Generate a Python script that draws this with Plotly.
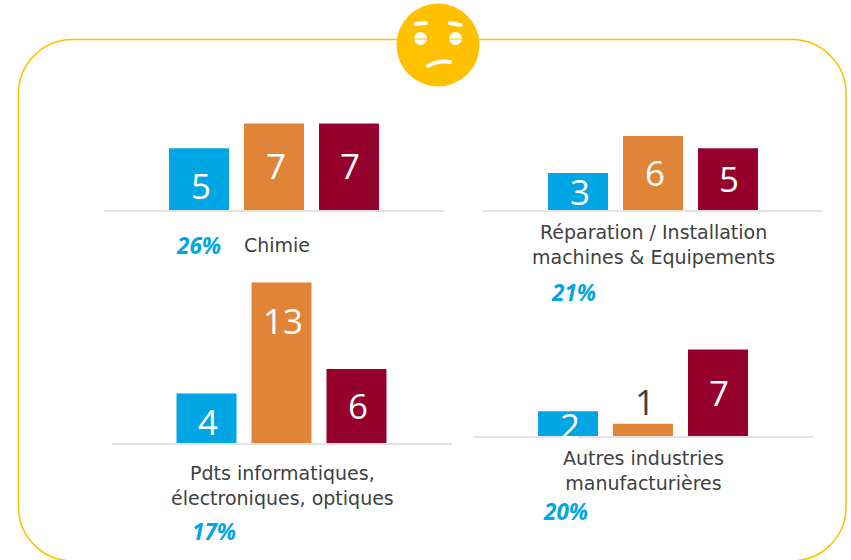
import plotly.graph_objects as go

W, H = 851, 560
FONT = "Open Sans"
TEXT_FONT = "DejaVu Sans"
categories = ["Série 1", "Série 2", "Série 3"]
colors = ["#00a5e3", "#e08538", "#96002d"]
chart_names = ["Chimie", "Réparation / Installation<br>machines & Equipements",
               "Pdts informatiques,<br>électroniques, optiques",
               "Autres industries<br>manufacturières"]
chimie = [5, 7, 7]
reparation = [3, 6, 5]
informatique = [4, 13, 6]
autres = [2, 1, 7]
shares = ["26%", "21%", "17%", "20%"]

series = [chimie, reparation, informatique, autres]
# pixel layout: left edge, baseline, centre of the name, pct position
panels = [
    dict(left=104, base=210, name=(277, 245), pct=(198.5, 245.5)),
    dict(left=483, base=210, name=(653.5, 244.5), pct=(573.5, 292.5)),
    dict(left=111.5, base=443, name=(282, 485), pct=(213.5, 531.5)),
    dict(left=473, base=436, name=(643, 470.5), pct=(565.5, 511.5)),
]
label_drop = [[37, 42, 42], [19, 37, 30], [28, 38, 37], [14, -2, 43]]
SCALE = 12.35
AXH = 175

fig = go.Figure()
annotations = []
layout = {}
px = lambda x: x / W
py = lambda y: 1 - y / H
for i, (vals, p) in enumerate(zip(series, panels)):
    sx = "" if i == 0 else str(i + 1)
    fig.add_trace(go.Bar(x=[0, 1, 2], y=vals, width=0.8, marker=dict(color=colors, line_width=0),
                         xaxis="x" + sx, yaxis="y" + sx, showlegend=False, hoverinfo="skip"))
    top = p["base"] - AXH
    layout["xaxis" + sx] = dict(domain=[px(p["left"]), px(p["left"] + 340)], range=[-1.267, 3.267],
                                showticklabels=False, ticks="", showgrid=False, zeroline=False,
                                showline=True, linecolor="#e2e2e2", linewidth=2, anchor="y" + sx,
                                fixedrange=True)
    layout["yaxis" + sx] = dict(domain=[py(p["base"]), py(top)], range=[0, AXH / SCALE], visible=False,
                                anchor="x" + sx, fixedrange=True)
    for j, v in enumerate(vals):
        white = label_drop[i][j] > 0
        annotations.append(dict(x=j, y=v, xref="x" + sx, yref="y" + sx, text=str(v), showarrow=False,
                                xanchor="center", yanchor="middle",
                                xshift=1.5, yshift=-label_drop[i][j] if white else 22,
                                font=dict(family=FONT, size=35, color="#ffffff" if white else "#404040")))
    annotations.append(dict(x=px(p["name"][0]), y=py(p["name"][1]), xref="paper", yref="paper",
                            xanchor="center", yanchor="middle",
                            text=chart_names[i], showarrow=False, align="center",
                            font=dict(family=TEXT_FONT, size=19, color="#404040")))
    annotations.append(dict(x=px(p["pct"][0]), y=py(p["pct"][1]), xref="paper", yref="paper",
                            xanchor="center", yanchor="middle",
                            text="<b><i>%s</i></b>" % shares[i], showarrow=False,
                            font=dict(family=FONT, size=22.5, color="#00a5e3")))

def pt(x, y):
    return "%.5f %.5f" % (px(x), py(y))

L, T, R, B, rad = 18.5, 39.5, 846, 561, 54
k = rad * 0.45
frame = ("M " + pt(L + rad, T) + " L " + pt(R - rad, T) +
         " C " + pt(R - k, T) + " " + pt(R, T + k) + " " + pt(R, T + rad) +
         " L " + pt(R, B - rad) + " C " + pt(R, B - k) + " " + pt(R - k, B) + " " + pt(R - rad, B) +
         " L " + pt(L + rad, B) + " C " + pt(L + k, B) + " " + pt(L, B - k) + " " + pt(L, B - rad) +
         " L " + pt(L, T + rad) + " C " + pt(L, T + k) + " " + pt(L + k, T) + " " + pt(L + rad, T) + " Z")
def box(x0, y0, x1, y1):
    return dict(xref="paper", yref="paper", x0=px(x0), x1=px(x1), y0=py(y0), y1=py(y1))
def dot(x, y, r=2):
    return dict(type="circle", **box(x - r, y - r, x + r, y + r), fillcolor="#ffffff", line_width=0)
shapes = [
    dict(type="path", path=frame, xref="paper", yref="paper", line=dict(color="#ffc000", width=1.5), layer="below"),
    dict(type="circle", **box(396.5, 3.5, 479.5, 86.5), fillcolor="#ffc000", line_width=0),
    dict(type="circle", **box(414, 32, 427, 45), fillcolor="#ffffff", line_width=0),
    dict(type="circle", **box(449, 32, 462, 45), fillcolor="#ffffff", line_width=0),
    dict(type="line", **box(415.5, 24, 426, 23), line=dict(color="#ffffff", width=4)),
    dict(type="line", **box(450, 23, 460.5, 25), line=dict(color="#ffffff", width=4)),
    dot(415.5, 24), dot(426, 23), dot(450, 23), dot(460.5, 25),
    dict(type="path", path="M " + pt(428, 66) + " Q " + pt(438, 60) + " " + pt(450, 62),
         xref="paper", yref="paper", line=dict(color="#ffffff", width=4)),
    dot(428, 66), dot(450, 62),
    dict(type="line", **box(414, 39, 427, 39), line=dict(color="#ffc000", width=1)),
    dict(type="line", **box(449, 39, 462, 39), line=dict(color="#ffc000", width=1)),
]
fig.update_layout(width=W, height=H, margin=dict(l=0, r=0, t=0, b=0), paper_bgcolor="#ffffff",
                  plot_bgcolor="rgba(0,0,0,0)", annotations=annotations, shapes=shapes, **layout)
fig.write_html("out.html", config={"displayModeBar": False},
               post_script="document.body.style.margin='0';document.documentElement.style.overflow='hidden';")
